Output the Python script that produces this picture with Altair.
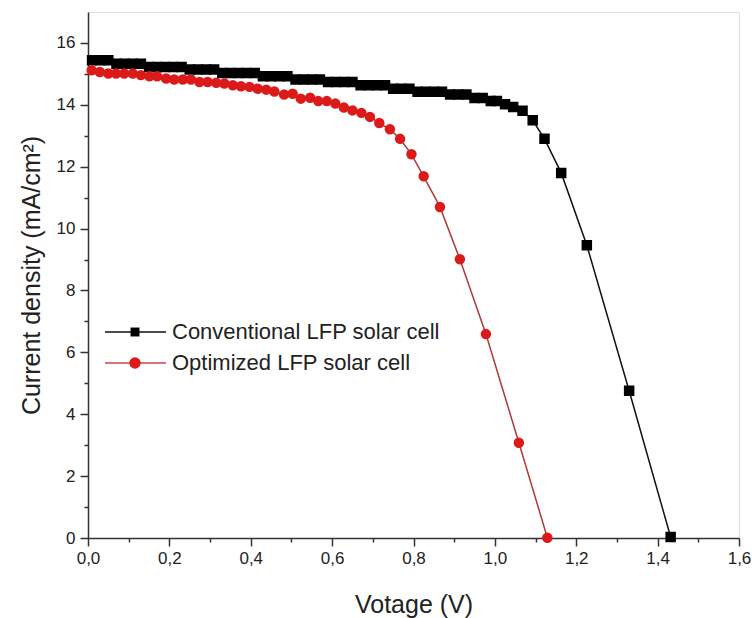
import altair as alt
import pandas as pd

FONT = "Liberation Sans"

# Conventional LFP solar cell (black squares)
conv_v = [0.01, 0.03, 0.05, 0.07, 0.09, 0.11, 0.13, 0.15, 0.17, 0.19, 0.21, 0.23,
          0.25, 0.27, 0.29, 0.31, 0.33, 0.35, 0.37, 0.39, 0.41, 0.43, 0.45, 0.47,
          0.49, 0.51, 0.53, 0.55, 0.57, 0.59, 0.61, 0.63, 0.65, 0.67, 0.69, 0.71,
          0.73, 0.75, 0.77, 0.79, 0.81, 0.83, 0.85, 0.87, 0.89, 0.91, 0.93, 0.95,
          0.97, 0.99, 1.005, 1.025, 1.045, 1.068, 1.093, 1.122, 1.163, 1.226, 1.330, 1.432]
conv_j = [15.44, 15.44, 15.44, 15.33, 15.33, 15.33, 15.33, 15.22, 15.22, 15.22, 15.22, 15.22,
          15.14, 15.14, 15.14, 15.14, 15.03, 15.03, 15.03, 15.03, 15.03, 14.92, 14.92, 14.92,
          14.92, 14.82, 14.82, 14.82, 14.82, 14.74, 14.74, 14.74, 14.74, 14.63, 14.63, 14.63,
          14.63, 14.52, 14.52, 14.52, 14.42, 14.42, 14.42, 14.42, 14.33, 14.33, 14.33, 14.22,
          14.22, 14.12, 14.12, 14.02, 13.93, 13.81, 13.50, 12.90, 11.80, 9.46, 4.76, 0.03]

# Optimized LFP solar cell (red circles)
opt_v = [0.009, 0.029, 0.050, 0.069, 0.089, 0.110, 0.130, 0.151, 0.170, 0.192, 0.212,
         0.233, 0.253, 0.274, 0.294, 0.315, 0.335, 0.356, 0.376, 0.397, 0.417, 0.438,
         0.458, 0.482, 0.503, 0.523, 0.546, 0.566, 0.587, 0.608, 0.629, 0.650, 0.672,
         0.693, 0.716, 0.742, 0.767, 0.795, 0.825, 0.865, 0.914, 0.978, 1.059, 1.129]
opt_j = [15.12, 15.06, 15.01, 15.01, 15.01, 15.01, 14.96, 14.92, 14.92, 14.85, 14.82,
         14.82, 14.82, 14.74, 14.74, 14.71, 14.69, 14.63, 14.60, 14.58, 14.52, 14.49,
         14.43, 14.33, 14.36, 14.20, 14.23, 14.12, 14.12, 14.04, 13.91, 13.82, 13.74,
         13.61, 13.41, 13.21, 12.90, 12.40, 11.69, 10.70, 9.01, 6.59, 3.08, 0.01]

series_names = ["Conventional LFP solar cell", "Optimized LFP solar cell"]
x_ticks = [0.0, 0.1, 0.2, 0.3, 0.4, 0.5, 0.6, 0.7, 0.8, 0.9, 1.0, 1.1, 1.2, 1.3, 1.4, 1.5, 1.6]
y_ticks = [0, 1, 2, 3, 4, 5, 6, 7, 8, 9, 10, 11, 12, 13, 14, 15, 16]

df = pd.concat([
    pd.DataFrame({"V": conv_v, "J": conv_j, "series": series_names[0]}),
    pd.DataFrame({"V": opt_v, "J": opt_j, "series": series_names[1]}),
])

AX = "#333333"
x_axis = alt.Axis(
    values=x_ticks,
    labelExpr="round(datum.value*10) % 2 === 0 ? replace(format(datum.value, '.1f'), '.', ',') : ''",
    tickSize={"condition": {"test": "round(datum.value*10) % 2 === 0", "value": 8}, "value": 4},
    grid=False, domainColor=AX, tickColor=AX, domainWidth=1.5, tickWidth=1.5,
    labelFont=FONT, labelFontSize=17, labelColor="#222", labelPadding=4,
    labelFlush=False, labelOverlap=False, labelBound=False,
    title="Votage (V)", titleFont=FONT, titleFontSize=25, titleFontWeight="normal",
    titleColor="#222", titleY=74, titleBaseline="alphabetic",
)
y_axis = alt.Axis(
    values=y_ticks,
    labelExpr="datum.value % 2 === 0 ? datum.label : ''",
    tickSize={"condition": {"test": "datum.value % 2 === 0", "value": 8}, "value": 4},
    grid=False, domainColor=AX, tickColor=AX, domainWidth=1.5, tickWidth=1.5,
    labelFont=FONT, labelFontSize=17, labelColor="#222", labelPadding=5,
    labelFlush=False, labelOverlap=False, labelBound=False,
    title="Current density (mA/cm²)", titleFont=FONT, titleFontSize=25,
    titleFontWeight="normal", titleColor="#222", titleX=-57, titleY=263,
    titleAngle=-90, titleAlign="center", titleBaseline="middle",
)

x_enc = alt.X("V:Q", scale=alt.Scale(domain=[0, 1.6], nice=False, zero=False), axis=x_axis)
y_enc = alt.Y("J:Q", scale=alt.Scale(domain=[0, 17], nice=False), axis=y_axis)

base = alt.Chart(df)
lines = base.mark_line(strokeWidth=1.5).encode(
    x=x_enc, y=y_enc,
    color=alt.Color("series:N", scale=alt.Scale(domain=series_names, range=["#111111", "#b23a36"]), legend=None),
    order="V:Q",
)
points = base.mark_point(filled=True, size=72, opacity=1).encode(
    x=x_enc, y=y_enc,
    shape=alt.Shape("series:N", scale=alt.Scale(domain=series_names, range=["square", "circle"]), legend=None),
    fill=alt.Fill("series:N", scale=alt.Scale(domain=series_names, range=["#000000", "#dc1a1a"]), legend=None),
    stroke=alt.Stroke("series:N", scale=alt.Scale(domain=series_names, range=["#000000", "#dc1a1a"]), legend=None),
)

# manual legend
leg_y = [320, 351]
leg_size = [80, 130]
leg_colors_line = ["#111111", "#c04848"]
leg_colors_mark = ["#000000", "#dc1a1a"]
leg_shapes = ["square", "circle"]
legend_layers = []
for i in range(2):
    one = alt.Chart(pd.DataFrame({"t": [series_names[i]]}))
    legend_layers.append(one.mark_rule(strokeWidth=1.5, color=leg_colors_line[i]).encode(
        x=alt.value(17), x2=alt.value(78), y=alt.value(leg_y[i])))
    legend_layers.append(one.mark_point(filled=True, size=leg_size[i], opacity=1, shape=leg_shapes[i],
                                        color=leg_colors_mark[i]).encode(
        x=alt.value(47), y=alt.value(leg_y[i])))
    legend_layers.append(one.mark_text(align="left", baseline="middle", font=FONT, fontSize=22,
                                       color="#222").encode(
        x=alt.value(84), y=alt.value(leg_y[i]), text="t:N"))

chart = alt.layer(lines, points, *legend_layers).properties(
    width=651, height=526,
    autosize=alt.AutoSizeParams(type="none"),
    padding={"left": 88, "top": 12, "right": 13, "bottom": 80},
).configure_view(stroke=AX, strokeWidth=1.5).configure(background="white")

chart.save("out.html", embed_options={"renderer": "svg", "actions": False})
